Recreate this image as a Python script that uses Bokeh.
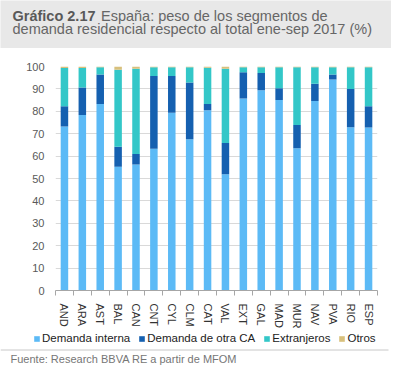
from bokeh.plotting import figure
from bokeh.models import ColumnDataSource, Range1d, FixedTicker, Legend, LegendItem
from bokeh.layouts import column
from bokeh.core.properties import value
from bokeh.embed import file_html
from bokeh.resources import INLINE

# ---------------- data ----------------
categories = ["AND", "ARA", "AST", "BAL", "CAN", "CNT", "CYL", "CLM", "CAT",
              "VAL", "EXT", "GAL", "MAD", "MUR", "NAV", "PVA", "RIO", "ESP"]
demanda_interna = [73.2, 78.4, 83.3, 55.2, 56.2, 63.3, 79.4, 67.5, 80.5,
                   51.9, 85.7, 89.4, 85.1, 63.5, 84.6, 94.2, 72.9, 72.8]
demanda_otra_ca = [9.1, 12.2, 13.1, 9.0, 4.7, 32.5, 16.4, 25.4, 2.8,
                   13.9, 11.7, 7.7, 5.2, 10.4, 7.7, 2.2, 17.0, 9.5]
extranjeros = [17.0, 8.7, 3.3, 34.4, 38.1, 3.9, 3.9, 6.8, 16.1,
               33.2, 2.3, 2.6, 9.4, 25.8, 7.4, 3.3, 9.8, 17.4]
otros = [0.7, 0.7, 0.3, 1.4, 1.0, 0.3, 0.3, 0.3, 0.6,
         1.0, 0.3, 0.3, 0.3, 0.3, 0.3, 0.3, 0.3, 0.3]
series_names = ["Demanda interna", "Demanda de otra CA", "Extranjeros", "Otros"]
y_ticks = [0, 10, 20, 30, 40, 50, 60, 70, 80, 90, 100]
title_bold = "Gráfico 2.17"
title_rest = "España: peso de los segmentos de"
title_line2 = "demanda residencial respecto al total ene-sep 2017 (%)"
source_text = "Fuente: Research BBVA RE a partir de MFOM"

colors = ["#5CBAF6", "#1560B0", "#33C7C8", "#D8C07C"]
FONT = "Liberation Sans"
W = 391
TH, MH, BH = 48, 283, 35


def blank(h, bg="white"):
    f = figure(width=W, height=h, output_backend="svg", toolbar_location=None,
               x_range=Range1d(0, W), y_range=Range1d(h, 0),
               x_axis_location=None, y_axis_location=None,
               min_border=0, outline_line_color=None, frame_align=False)
    f.grid.visible = False
    f.background_fill_color = bg
    f.border_fill_color = bg
    return f


# ---------------- title strip ----------------
t = blank(TH, "#E8E8E8")
t.text(x=[12], y=[15.5], text=[title_bold], text_font=value(FONT),
       text_font_size="14.5px", text_font_style="bold", text_color="#595959",
       text_baseline="alphabetic")
t.text(x=[100.5], y=[15.5], text=[title_rest], text_font=value(FONT),
       text_font_size="14.5px", text_color="#666666", text_baseline="alphabetic")
t.text(x=[12], y=[28], text=[title_line2], text_font=value(FONT),
       text_font_size="14.5px", text_color="#666666", text_baseline="alphabetic")

# ---------------- main chart ----------------
n = len(categories)
xs = [i + 0.5 for i in range(n)]
src = ColumnDataSource(dict(x=xs, a=demanda_interna, b=demanda_otra_ca,
                            c=extranjeros, d=otros))

p = figure(width=W, height=MH, output_backend="svg", toolbar_location=None,
           x_range=Range1d(0, n), y_range=Range1d(0, 100),
           min_border_left=55, min_border_right=14, min_border_top=18,
           min_border_bottom=39, outline_line_color=None, frame_align=False)
p.vbar_stack(["a", "b", "c", "d"], x="x", width=0.42, color=colors,
             line_color=None, source=src)

p.xgrid.visible = False
p.ygrid.grid_line_color = "#D9D9D9"
p.ygrid.grid_line_width = 1

p.yaxis.ticker = FixedTicker(ticks=y_ticks)
p.yaxis.axis_line_color = None
p.yaxis.major_tick_line_color = None
p.yaxis.minor_tick_line_color = None
p.yaxis.major_tick_out = 0
p.yaxis.major_tick_in = 0
p.yaxis.major_label_standoff = 11
p.yaxis.major_label_text_font = FONT
p.yaxis.major_label_text_font_size = "11px"
p.yaxis.major_label_text_color = "#595959"

p.xaxis.ticker = FixedTicker(ticks=xs, minor_ticks=list(range(n + 1)))
p.xaxis.major_label_overrides = {x: c for x, c in zip(xs, categories)}
p.xaxis.major_label_orientation = "vertical"
p.xaxis.axis_line_color = "#A6A6A6"
p.xaxis.major_tick_line_color = None
p.xaxis.major_tick_out = 0
p.xaxis.major_tick_in = 0
p.xaxis.minor_tick_line_color = "#A6A6A6"
p.xaxis.minor_tick_out = 5
p.xaxis.minor_tick_in = 0
p.xaxis.major_label_standoff = 8
p.xaxis.major_label_text_font = FONT
p.xaxis.major_label_text_font_size = "11px"
p.xaxis.major_label_text_color = "#333333"

# ---------------- legend + source strip ----------------
b = blank(BH)
nan = float("nan")
keys = [b.vbar(x=[nan], top=[nan], width=1, color=c, line_color=None) for c in colors]
legend = Legend(items=[LegendItem(label=nm, renderers=[r]) for nm, r in zip(series_names, keys)],
                orientation="horizontal", location=(33, 22),
                border_line_color=None, background_fill_alpha=0,
                label_text_font=FONT, label_text_font_size="11.5px",
                label_text_color="#222222", glyph_width=7, glyph_height=7,
                label_height=12, label_standoff=2, spacing=8, padding=0, margin=0)
b.add_layout(legend)
b.segment(x0=[0], y0=[18.5], x1=[388], y1=[18.5], line_color="#C8C8C8", line_width=1)
b.text(x=[10], y=[27], text=[source_text], text_font=value(FONT),
       text_font_size="11px", text_color="#767676", text_baseline="alphabetic")

layout = column(t, p, b, spacing=0)
open("out.html", "w").write(file_html(layout, INLINE))
